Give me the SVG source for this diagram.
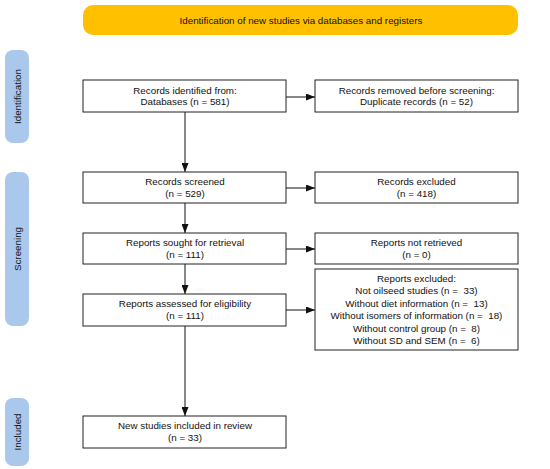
<svg xmlns="http://www.w3.org/2000/svg" width="550" height="469" viewBox="0 0 550 469">
<style>
text{font-family:"Liberation Sans",Arial,sans-serif;font-size:9.8px;fill:#111;text-anchor:middle;white-space:pre}
.box{fill:#fff;stroke:#222;stroke-width:1}
.phase{fill:#a9c8eb}
.ln{stroke:#111;stroke-width:1;fill:none}
</style>
<defs>
<marker id="ah" markerWidth="9" markerHeight="7" refX="9" refY="3.5" orient="auto" markerUnits="userSpaceOnUse">
<path d="M0,0 L9,3.5 L0,7 Z" fill="#111"/>
</marker>
</defs>
<rect width="550" height="469" fill="#fff"/>
<g id="banner">
<rect x="83" y="5" width="435" height="30" rx="10" fill="#ffc000"/>
<text x="301" y="23.5">Identification of new studies via databases and registers</text>
</g>
<g id="phase-identification">
<rect class="phase" x="5" y="50" width="24" height="93" rx="8"/>
<text transform="translate(20.5,96.5) rotate(-90)">Identification</text>
</g>
<g id="phase-screening">
<rect class="phase" x="5" y="172" width="24" height="154" rx="8"/>
<text transform="translate(20.5,249) rotate(-90)">Screening</text>
</g>
<g id="phase-included">
<rect class="phase" x="5" y="398" width="24" height="68" rx="8"/>
<text transform="translate(20.5,432) rotate(-90)">Included</text>
</g>
<g id="connectors">
<line class="ln" x1="286" y1="97" x2="315" y2="97" marker-end="url(#ah)"/>
<line class="ln" x1="185" y1="112" x2="185" y2="172" marker-end="url(#ah)"/>
<line class="ln" x1="286" y1="188" x2="315" y2="188" marker-end="url(#ah)"/>
<line class="ln" x1="185" y1="203" x2="185" y2="233" marker-end="url(#ah)"/>
<line class="ln" x1="286" y1="249" x2="315" y2="249" marker-end="url(#ah)"/>
<line class="ln" x1="185" y1="264" x2="185" y2="294" marker-end="url(#ah)"/>
<line class="ln" x1="286" y1="310" x2="315" y2="310" marker-end="url(#ah)"/>
<line class="ln" x1="185" y1="326" x2="185" y2="416" marker-end="url(#ah)"/>
</g>
<g id="records-identified">
<rect class="box" x="83" y="80" width="203" height="32"/>
<text x="185" y="93.5">Records identified from:</text>
<text x="185" y="105">Databases (n = 581)</text>
</g>
<g id="records-removed">
<rect class="box" x="315" y="80" width="203" height="32"/>
<text x="416.5" y="93.5">Records removed before screening:</text>
<text x="416.5" y="105">Duplicate records (n = 52)</text>
</g>
<g id="records-screened">
<rect class="box" x="83" y="172" width="203" height="31"/>
<text x="185" y="185">Records screened</text>
<text x="185" y="197">(n = 529)</text>
</g>
<g id="records-excluded">
<rect class="box" x="315" y="172" width="203" height="31"/>
<text x="416.5" y="185">Records excluded</text>
<text x="416.5" y="197">(n = 418)</text>
</g>
<g id="reports-sought">
<rect class="box" x="83" y="233" width="203" height="31"/>
<text x="185" y="246">Reports sought for retrieval</text>
<text x="185" y="258">(n = 111)</text>
</g>
<g id="reports-not-retrieved">
<rect class="box" x="315" y="233" width="203" height="31"/>
<text x="416.5" y="246">Reports not retrieved</text>
<text x="416.5" y="258">(n = 0)</text>
</g>
<g id="reports-assessed">
<rect class="box" x="83" y="294" width="203" height="32"/>
<text x="185" y="307">Reports assessed for eligibility</text>
<text x="185" y="319">(n = 111)</text>
</g>
<g id="reports-excluded">
<rect class="box" x="315" y="269" width="203" height="81"/>
<text x="416.5" y="281.5">Reports excluded:</text>
<text x="416.5" y="294">Not oilseed studies (n =  33)</text>
<text x="416.5" y="306.5">Without diet information (n =  13)</text>
<text x="416.5" y="319">Without isomers of information (n =  18)</text>
<text x="416.5" y="331.5">Without control group (n =  8)</text>
<text x="416.5" y="344">Without SD and SEM (n =  6)</text>
</g>
<g id="new-studies">
<rect class="box" x="83" y="416" width="203" height="32"/>
<text x="185" y="429">New studies included in review</text>
<text x="185" y="441">(n = 33)</text>
</g>
</svg>
